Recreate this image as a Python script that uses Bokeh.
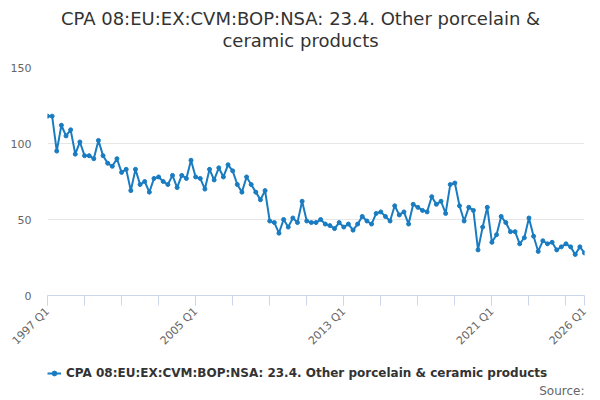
import math
from bokeh.plotting import figure
from bokeh.layouts import column
from bokeh.models import (Range1d, FixedTicker, Label, Legend, LegendItem, ColumnDataSource)
from bokeh.embed import file_html
from bokeh.resources import INLINE

# ---- data ----
years = list(range(1997, 2027))
periods = [f"{y} Q{q}" for y in years for q in (1, 2, 3, 4)][:117]

values = [
    118, 118, 95, 112,      # 1997
    105, 109, 93, 101,      # 1998
    92, 92, 90, 102,        # 1999
    92, 87, 85, 90,         # 2000
    81, 83, 69, 83,         # 2001
    73, 75, 68, 77,         # 2002
    78, 75, 73, 79,         # 2003
    71, 79, 77, 89,         # 2004
    78, 77, 70, 83,         # 2005
    76, 84, 78, 86,         # 2006
    82, 73, 68, 78,         # 2007
    73, 68, 63, 69,         # 2008
    49, 48, 41, 50,         # 2009
    45, 51, 48, 62,         # 2010
    49, 48, 48, 50,         # 2011
    47, 46, 44, 48,         # 2012
    45, 47, 43, 47,         # 2013
    52, 49, 47, 54,         # 2014
    55, 52, 49, 59,         # 2015
    53, 55, 47, 60,         # 2016
    58, 56, 55, 65,         # 2017
    60, 62, 54, 73,         # 2018
    74, 59, 49, 58,         # 2019
    56, 30, 45, 58,         # 2020
    35, 40, 52, 48,         # 2021
    42, 42, 34, 38,         # 2022
    51, 39, 29, 36,         # 2023
    34, 35, 30, 32,         # 2024
    34, 32, 27, 32,         # 2025
    28,                     # 2026
]

label_periods = ["1997 Q1", "2005 Q1", "2013 Q1", "2021 Q1", "2026 Q1"]
y_ticks = [0, 50, 100, 150]

title_line1 = "CPA 08:EU:EX:CVM:BOP:NSA: 23.4. Other porcelain &"
title_line2 = "ceramic products"
series_name = "CPA 08:EU:EX:CVM:BOP:NSA: 23.4. Other porcelain & ceramic products"
source_text = "Source:"

LINE_COLOR = "#1a7cc0"
FONT = "DejaVu Sans"
FRAME_LEFT = 47   # frames of the stacked figures are aligned to this left edge

# ---- title strip ----
tf = figure(width=600, height=59, output_backend="svg", toolbar_location=None,
            x_axis_type=None, y_axis_type=None, min_border=0,
            x_range=Range1d(0, 1), y_range=Range1d(0, 1))
tf.outline_line_color = None
for txt, yy in ((title_line1, 41), (title_line2, 19)):
    tf.add_layout(Label(x=300 - FRAME_LEFT, y=yy, x_units="screen", y_units="screen", text=txt,
                        text_align="center", text_baseline="middle",
                        text_font=FONT, text_font_size="18px", text_color="#333333"))

# ---- main chart ----
xs = list(range(len(values)))
src = ColumnDataSource(dict(x=xs, y=values))

p = figure(width=600, height=296, output_backend="svg", toolbar_location=None,
           x_range=Range1d(0, len(values) - 1), y_range=Range1d(0, 150),
           min_border_left=FRAME_LEFT, min_border_right=16, min_border_top=8, min_border_bottom=58)
p.outline_line_color = None

line = p.line("x", "y", source=src, line_color=LINE_COLOR, line_width=2)
pts = p.scatter("x", "y", source=src, size=4, fill_color=LINE_COLOR, line_color=LINE_COLOR)

major_idx = [periods.index(l) for l in label_periods]
minor_idx = [i for i in range(0, len(values), 8)]
xa = p.xaxis[0]
xa.ticker = FixedTicker(ticks=major_idx, minor_ticks=minor_idx)
xa.major_label_overrides = {i: periods[i] for i in major_idx}
xa.major_label_orientation = math.pi / 4
xa.axis_line_color = "#ccd6eb"
xa.major_tick_line_color = "#ccd6eb"
xa.minor_tick_line_color = "#ccd6eb"
xa.major_tick_out = 10
xa.major_tick_in = 0
xa.minor_tick_out = 10
xa.minor_tick_in = 0
xa.major_label_text_font = FONT
xa.major_label_text_font_size = "11px"
xa.major_label_text_color = "#666666"
xa.major_label_standoff = 4
p.xgrid.visible = False

ya = p.yaxis[0]
ya.ticker = FixedTicker(ticks=y_ticks)
ya.axis_line_color = None
ya.major_tick_line_color = None
ya.minor_tick_line_color = None
ya.major_tick_out = 0
ya.major_tick_in = 0
ya.minor_tick_out = 0
ya.minor_tick_in = 0
ya.major_label_text_font = FONT
ya.major_label_text_font_size = "11px"
ya.major_label_text_color = "#666666"
ya.major_label_standoff = 16
p.ygrid.ticker = FixedTicker(ticks=y_ticks)
p.ygrid.grid_line_color = "#e6e6e6"

# ---- legend / credits strip ----
lf = figure(width=600, height=45, output_backend="svg", toolbar_location=None,
            x_axis_type=None, y_axis_type=None, min_border=0,
            x_range=Range1d(0, 1), y_range=Range1d(0, 1))
lf.outline_line_color = None
dummy = ColumnDataSource(dict(x=[-5, -4], y=[-5, -5]))
lline = lf.line("x", "y", source=dummy, line_color=LINE_COLOR, line_width=2)
lpts = lf.scatter("x", "y", source=dummy, size=4, fill_color=LINE_COLOR, line_color=LINE_COLOR)
legend = Legend(items=[LegendItem(label=series_name, renderers=[lline, lpts])],
                location=(0, 17), orientation="horizontal",
                label_text_font=FONT, label_text_font_size="12px",
                label_text_font_style="bold", label_text_color="#333333",
                glyph_width=14, glyph_height=12, label_standoff=5, label_height=20,
                padding=0, margin=0, spacing=0,
                border_line_color=None, background_fill_alpha=0)
lf.add_layout(legend, "center")
lf.add_layout(Label(x=537, y=10, x_units="screen", y_units="screen", text=source_text,
                    text_align="right", text_baseline="middle",
                    text_font=FONT, text_font_size="12px", text_color="#666666"))

layout = column(tf, p, lf, spacing=0)
open("out.html", "w").write(file_html(layout, INLINE))
